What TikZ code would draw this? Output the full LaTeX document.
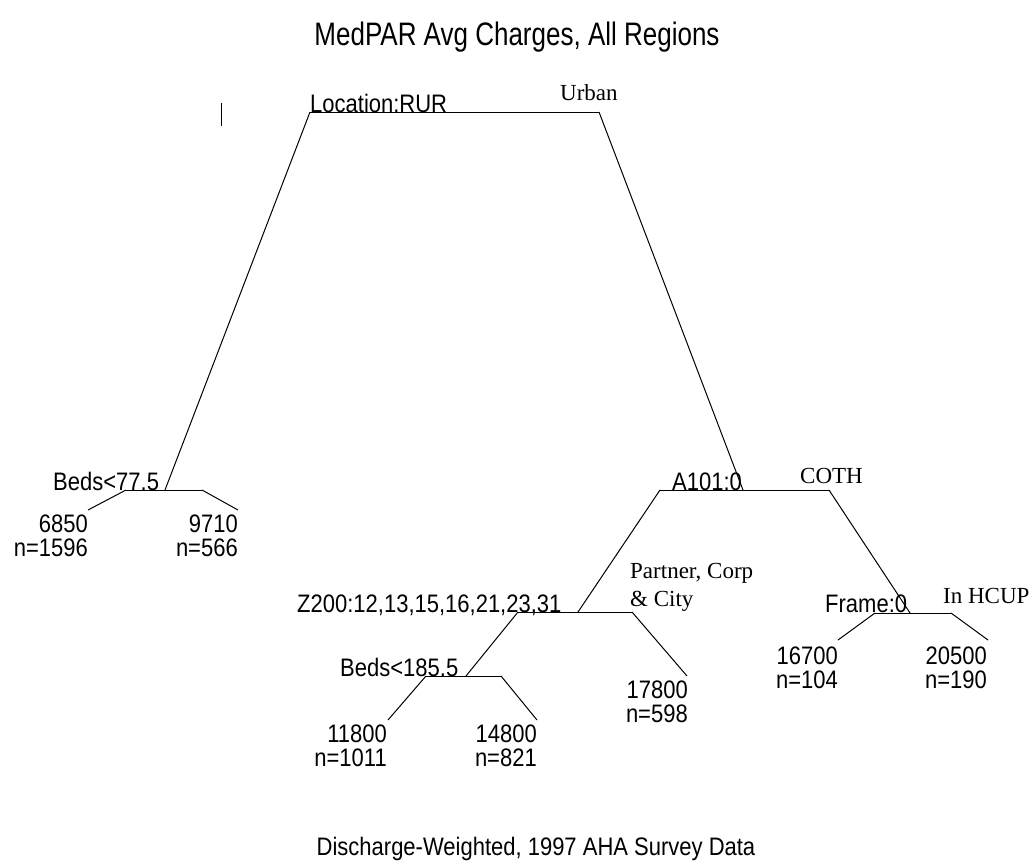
\documentclass[tikz,border=0pt]{standalone}
\usepackage{fontspec}
\setmainfont{Liberation Sans}
\newfontfamily\notefont{Liberation Serif}
\usepackage{graphicx}
\usepackage{xcolor}
\usepackage{tikz}
\usetikzlibrary{positioning}
\definecolor{treeink}{HTML}{000000}
\definecolor{labelink}{HTML}{000000}
\newcommand{\tall}[1]{\scalebox{1}[1.15]{#1}}

\begin{document}
\begin{tikzpicture}[x=1pt, y=-1pt,
        heading/.style={anchor=base, inner sep=0pt, text=labelink,
              font=\fontsize{26}{30}\selectfont},
        split/.style={anchor=base west, inner sep=0pt, text=labelink,
              font=\fontsize{22}{24}\selectfont},
        leaf/.style={anchor=north east, align=right, inner sep=0pt,
              text=labelink, font=\fontsize{22}{24}\selectfont},
        note/.style={anchor=base west, inner sep=0pt, text=labelink,
              font=\notefont\fontsize{23}{28}\selectfont},
        branch/.style={draw=treeink, line width=1pt}]
        \useasboundingbox (0,0) rectangle (1034,867);

        \node[heading] (title) at (517,46)
              {\scalebox{1}[1.25]{MedPAR Avg Charges, All Regions}};
        \coordinate (barTop) at (221,103);
        \coordinate (barBot) at (221,126);
        \draw[branch] (barTop) -- (barBot);

        % root split
        \coordinate (locL) at (310,112);
        \coordinate (locR) at (599,112);
        \draw[branch] (locL) -- (locR);
        \node[split] (locTxt) at (locL) {\tall{Location:RUR}};
        \node[note] (urban) at (560,100) {Urban};

        % rural side
        \coordinate (bedsA) at (165,490);
        \coordinate (bedsAL) at (126,490);
        \coordinate (bedsAR) at (202,490);
        \coordinate (leafA) at (88,510);
        \coordinate (leafB) at (238,510);
        \draw[branch] (locL) -- (bedsA);
        \draw[branch] (bedsAL) -- (bedsAR);
        \draw[branch] (bedsAL) -- (leafA);
        \draw[branch] (bedsAR) -- (leafB);
        \node[split] (bedsATxt) at (53,490) {\tall{Beds<77.5}};
        \node[leaf] (v6850) at (88,515) {\tall{6850}\\\tall{n=1596}};
        \node[leaf] (v9710) at (238,515) {\tall{9710}\\\tall{n=566}};

        % urban side
        \coordinate (a101) at (743,490);
        \coordinate (a101L) at (660,490);
        \coordinate (a101R) at (829,490);
        \draw[branch] (locR) -- (a101);
        \draw[branch] (a101L) -- (a101R);
        \node[split] (a101Txt) at (672,490) {\tall{A101:0}};
        \node[note] (coth) at (800,483) {COTH};

        \coordinate (z200) at (578,612);
        \coordinate (z200L) at (518,612);
        \coordinate (z200R) at (632,612);
        \coordinate (leafE) at (687,676);
        \draw[branch] (a101L) -- (z200);
        \draw[branch] (z200L) -- (z200R);
        \draw[branch] (z200R) -- (leafE);
        \node[split] (z200Txt) at (297,612) {\tall{Z200:12,13,15,16,21,23,31}};
        \node[note, anchor=north west, align=left] (partner) at (630,563)
              {Partner, Corp\\\& City};
        \node[leaf] (v17800) at (688,681) {\tall{17800}\\\tall{n=598}};

        \coordinate (bedsB) at (466,676);
        \coordinate (bedsBL) at (426,676);
        \coordinate (bedsBR) at (501,676);
        \coordinate (leafC) at (388,720);
        \coordinate (leafD) at (537,720);
        \draw[branch] (z200L) -- (bedsB);
        \draw[branch] (bedsBL) -- (bedsBR);
        \draw[branch] (bedsBL) -- (leafC);
        \draw[branch] (bedsBR) -- (leafD);
        \node[split] (bedsBTxt) at (340,676) {\tall{Beds<185.5}};
        \node[leaf] (v11800) at (387,725) {\tall{11800}\\\tall{n=1011}};
        \node[leaf] (v14800) at (537,725) {\tall{14800}\\\tall{n=821}};

        \coordinate (frame) at (910,613);
        \coordinate (frameL) at (875,613);
        \coordinate (frameR) at (951,613);
        \coordinate (leafF) at (838,640);
        \coordinate (leafG) at (988,640);
        \draw[branch] (a101R) -- (frame);
        \draw[branch] (frameL) -- (frameR);
        \draw[branch] (frameL) -- (leafF);
        \draw[branch] (frameR) -- (leafG);
        \node[split] (frameTxt) at (825,612) {\tall{Frame:0}};
        \node[note] (hcup) at (943,603) {In HCUP};
        \node[leaf] (v16700) at (838,647) {\tall{16700}\\\tall{n=104}};
        \node[leaf] (v20500) at (987,647) {\tall{20500}\\\tall{n=190}};

        \node[heading, font=\fontsize{22}{24}\selectfont] (caption) at (536,855)
              {\tall{Discharge-Weighted, 1997 AHA Survey Data}};
\end{tikzpicture}
\end{document}
